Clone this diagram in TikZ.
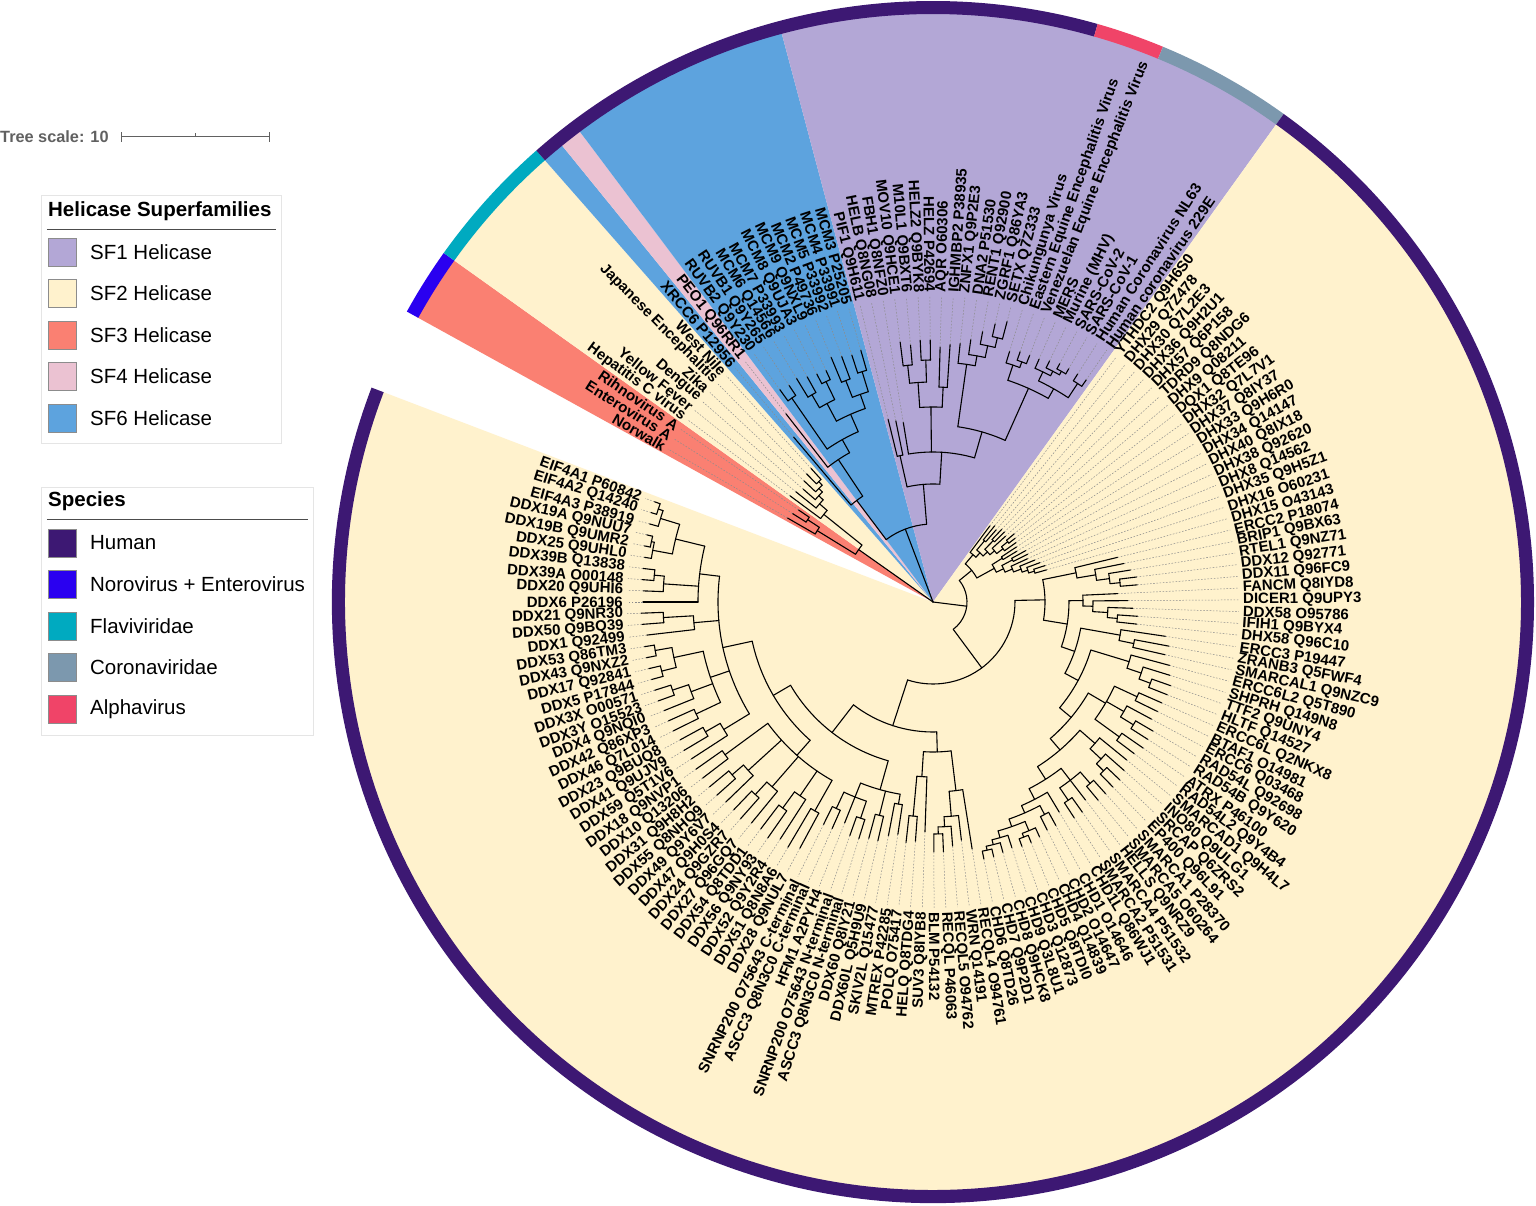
\documentclass[tikz,border=0pt]{standalone}
\usepackage{fontspec}
\setmainfont{Liberation Sans}
\definecolor{sfone}{RGB}{179,167,214}
\definecolor{sftwo}{RGB}{255,242,205}
\definecolor{sfthree}{RGB}{250,128,114}
\definecolor{sffour}{RGB}{235,194,210}
\definecolor{sfsix}{RGB}{93,163,222}
\definecolor{human}{RGB}{61,24,115}
\definecolor{noro}{RGB}{42,0,240}
\definecolor{flavi}{RGB}{0,170,192}
\definecolor{corona}{RGB}{124,152,174}
\definecolor{alpha}{RGB}{240,68,104}
\tikzset{
  branch/.style={black,line width=1.1pt,line cap=round},
  leafdot/.style={black!45,line width=0.5pt,dash pattern=on 1.6pt off 1.6pt},
  lbl/.style={font=\bfseries\fontsize{15}{15}\selectfont,inner sep=0pt},
  legbox/.style={draw=black!10,line width=0.8pt},
  legtitle/.style={font=\bfseries\fontsize{20.5}{22}\selectfont,inner sep=0pt},
  legtxt/.style={font=\fontsize{20.5}{22}\selectfont,inner sep=0pt},
  swatch/.style={minimum width=28pt,minimum height=28pt,inner sep=0pt,draw=black!45,line width=0.6pt}
}
\newcount\leafidx
\def\curR{0}
\let\fA\relax
\let\lA\relax
\def\retA{0}
\def\Tcap{\ifx\fA\relax\let\fA\retA\fi\let\lA\retA}
\def\Tn#1#2{\begingroup\let\outerR\curR\def\curR{#1}\let\fA\relax\let\lA\relax#2%
  \pgfmathsetmacro\myA{(\fA+\lA)/2}%
  \draw[branch] (\fA:#1pt) arc[start angle=\fA,end angle=\lA,radius=#1pt];%
  \draw[branch] (\myA:\outerR pt) -- (\myA:#1pt);%
  \xdef\retA{\myA}\endgroup\Tcap}
\def\Tl#1#2{\pgfmathsetmacro\tA{150-2.2*\the\leafidx}%
  \draw[branch] (\tA:\curR pt) -- (\tA:#1pt);%
  \draw[leafdot] (\tA:#1pt) -- (\tA:306pt);%
  \pgfmathtruncatemacro\isR{and(\tA<90,\tA>-90)}%
  \ifnum\isR=1 \node[lbl,anchor=west,rotate=\tA] (L\the\leafidx) at (\tA:310pt) {#2};%
  \else\pgfmathsetmacro\rA{\tA+180}\node[lbl,anchor=east,rotate=\rA] (L\the\leafidx) at (\tA:310pt) {#2};\fi
  \global\advance\leafidx by 1
  \xdef\retA{\tA}\Tcap}
\def\wedge#1#2#3{\fill[#1] (0,0) -- (#2:589pt) arc[start angle=#2,end angle=#3,radius=589pt] -- cycle;}
\def\ring#1#2#3{\fill[#1] (#2:588pt) arc[start angle=#2,end angle=#3,radius=588pt] -- (#3:601pt) arc[start angle=#3,end angle=#2,radius=601pt] -- cycle;}
\begin{document}
\begin{tikzpicture}[x=1pt,y=1pt]
\useasboundingbox (-933,-604) rectangle (603,602);
\fill[white] (-933,-604) rectangle (603,602);
% superfamily wedges
\wedge{sfthree}{151.1}{144.5}
\wedge{sftwo}{144.5}{131.3}
\wedge{sfsix}{131.3}{129.1}
\wedge{sffour}{129.1}{126.9}
\wedge{sfsix}{126.9}{104.9}
\wedge{sfone}{104.9}{54.3}
\wedge{sftwo}{54.3}{-200.9}
% species ring
\ring{noro}{151.1}{144.5}
\ring{flavi}{144.5}{131.3}
\ring{human}{131.3}{74.1}
\ring{alpha}{74.1}{67.5}
\ring{corona}{67.5}{54.3}
\ring{human}{54.3}{-200.9}
% tree
\Tn{0.01}{%
\Tn{91}{%
 \Tn{136}{\Tl{168}{Norwalk}\Tn{150}{\Tl{166}{Enterovirus A}\Tl{163}{Rihnovirus A}}}%
 \Tn{140}{\Tl{178}{Hepatitis C virus}\Tn{150}{\Tl{176}{Yellow Fever}\Tn{156}{\Tl{172}{Dengue}\Tn{161}{\Tl{177}{Zika}\Tn{166}{\Tl{180}{Japanese Encephalitis}\Tl{181}{West Nile}}}}}}%
}%
\Tn{78}{%
 \Tn{127}{\Tl{216}{XRCC6 P12956}\Tn{171}{\Tl{239}{PEO1 Q96RR1}\Tn{186}{%
   \Tn{248}{\Tl{262}{RUVB2 Q9Y230}\Tl{260}{RUVB1 Q9Y265}}%
   \Tn{205}{\Tn{225}{\Tn{240}{\Tl{262}{MCM6 Q14566}\Tl{258}{MCM7 P33993}}\Tn{245}{\Tl{256}{MCM8 Q9UJA3}\Tl{255}{MCM9 Q9NXL9}}}\Tn{220}{\Tn{238}{\Tl{265}{MCM2 P49736}\Tl{262}{MCM5 P33992}}\Tn{241}{\Tl{260}{MCM4 P33991}\Tl{262}{MCM3 P25205}}}}%
 }}}%
 \Tn{118}{%
  \Tn{150}{\Tl{188}{PIF1 Q9H611}\Tl{185}{HELB Q8NG08}}%
  \Tn{150}{%
   \Tl{182}{FBH1 Q8NFZ0}%
   \Tn{195}{\Tn{220}{\Tn{238}{\Tl{262}{MOV10 Q9HCE1}\Tl{258}{M10L1 Q9BXT6}}\Tn{242}{\Tl{262}{HELZ2 Q9BYK8}\Tl{262}{HELZ P42694}}}\Tn{215}{\Tl{255}{AQR O60306}\Tl{258}{IGHMBP2 P38935}}}%
   \Tn{177}{%
    \Tn{240}{\Tl{260}{ZNFX1 Q9P2E3}\Tn{250}{\Tl{265}{DNA2 P51530}\Tn{262}{\Tl{275}{RENT1 Q92900}\Tn{272}{\Tl{285}{ZGRF1 Q86YA3}\Tl{290}{SETX Q7Z333}}}}}%
    \Tn{234}{\Tn{250}{\Tl{262}{Chikungunya Virus}\Tn{256}{\Tl{265}{Eastern Equine Encephalitis Virus}\Tl{265}{Venezuelan Equine Encephalitis Virus}}}\Tn{245}{\Tn{255}{\Tl{265}{MERS}\Tn{260}{\Tl{268}{Murine (MHV)}\Tn{264}{\Tl{270}{SARS-CoV-2}\Tl{270}{SARS-CoV-1}}}}\Tn{262}{\Tl{270}{Human Coronavirus NL63}\Tl{270}{Human coronavirus 229E}}}}%
   }%
  }%
 }%
}%
\Tn{34}{%
 \Tn{50}{%
  \Tn{62}{\Tl{95}{YTHDC2 Q9H6S0}\Tn{68}{\Tn{80}{\Tl{98}{DHX29 Q7Z478}\Tl{96}{DHX30 Q7L2E3}}\Tn{74}{\Tn{86}{\Tl{100}{DHX36 Q9H2U1}\Tl{100}{DHX57 Q6P158}}\Tn{80}{\Tl{98}{TDRD9 Q8NDG6}\Tn{88}{\Tn{96}{\Tl{106}{DHX9 Q08211}\Tl{104}{DQX1 Q8TE96}}\Tl{102}{DHX32 Q7L7V1}}}}}}%
  \Tn{70}{\Tn{82}{\Tl{100}{DHX37 Q8IY37}\Tl{98}{DHX33 Q9H6R0}}\Tn{78}{\Tn{90}{\Tl{106}{DHX34 Q14147}\Tl{106}{DHX40 Q8IX18}}\Tn{86}{\Tl{104}{DHX38 Q92620}\Tn{94}{\Tl{110}{DHX8 Q14562}\Tn{100}{\Tl{114}{DHX35 Q9H5Z1}\Tn{106}{\Tl{118}{DHX16 O60231}\Tl{118}{DHX15 O43143}}}}}}}%
 }%
 \Tn{82}{%
  \Tn{112}{%
   \Tn{146}{\Tl{190}{ERCC2 P18074}\Tn{165}{\Tl{195}{BRIP1 Q9BX63}\Tn{178}{\Tl{200}{RTEL1 Q9NZ71}\Tn{188}{\Tl{205}{DDX12 Q92771}\Tl{205}{DDX11 Q96FC9}}}}}%
   \Tn{136}{%
    \Tn{150}{\Tl{185}{FANCM Q8IYD8}\Tn{160}{\Tl{195}{DICER1 Q9UPY3}\Tn{175}{\Tl{200}{DDX58 O95786}\Tn{185}{\Tl{205}{IFIH1 Q9BYX4}\Tl{205}{DHX58 Q96C10}}}}}%
    \Tn{150}{%
     \Tn{190}{\Tl{235}{ERCC3 P19447}\Tn{205}{\Tl{240}{ZRANB3 Q5FWF4}\Tl{238}{SMARCAL1 Q9NZC9}}}%
     \Tn{165}{%
      \Tn{205}{\Tl{245}{ERCC6L2 Q5T890}\Tn{220}{\Tl{248}{SHPRH Q149N8}\Tn{232}{\Tl{252}{TTF2 Q9UNY4}\Tl{252}{HLTF Q14527}}}}%
      \Tn{180}{%
       \Tn{200}{\Tn{225}{\Tl{250}{ERCC6L Q2NKX8}\Tl{250}{BTAF1 O14981}}\Tn{220}{\Tl{248}{ERCC6 Q03468}\Tn{235}{\Tl{255}{RAD54L Q92698}\Tl{255}{RAD54B Q9Y620}}}\Tn{230}{\Tl{256}{ATRX P46100}\Tl{252}{RAD54L2 Q9Y4B4}}}%
       \Tn{195}{%
        \Tn{215}{\Tl{250}{SMARCAD1 Q9H4L7}\Tn{230}{\Tl{255}{INO80 Q9ULG1}\Tn{240}{\Tl{258}{SRCAP Q6ZRS2}\Tl{258}{EP400 Q96L91}}}}%
        \Tn{210}{%
         \Tn{225}{\Tn{240}{\Tl{258}{SMARCA1 P28370}\Tl{258}{SMARCA5 O60264}}\Tl{250}{HELLS Q9NRZ9}\Tn{240}{\Tl{258}{SMARCA4 P51532}\Tl{258}{SMARCA2 P51531}}}%
         \Tn{222}{\Tl{245}{CHD1L Q86WJ1}\Tn{230}{\Tn{240}{\Tl{255}{CHD1 O14646}\Tl{255}{CHD2 O14647}}\Tn{238}{\Tn{248}{\Tl{258}{CHD4 Q14839}\Tn{252}{\Tl{260}{CHD5 Q8TDI0}\Tl{260}{CHD3 Q12873}}}\Tn{245}{\Tl{258}{CHD9 Q3L8U1}\Tn{250}{\Tl{260}{CHD8 Q9HCK8}\Tn{254}{\Tl{262}{CHD7 Q9P2D1}\Tl{262}{CHD6 Q8TD26}}}}}}}%
        }%
       }%
      }%
     }%
    }%
   }%
  }%
  \Tn{130}{%
   \Tn{150}{%
    \Tn{190}{\Tl{250}{RECQL4 O94761}\Tn{215}{\Tl{240}{WRN Q14191}\Tn{225}{\Tl{245}{RECQL5 O94762}\Tn{232}{\Tl{250}{RECQL P46063}\Tl{250}{BLM P54132}}}}}%
    \Tn{175}{\Tl{230}{SUV3 Q8IYB8}\Tn{215}{\Tl{240}{HELQ Q8TDG4}\Tl{242}{POLQ O75417}}}%
   }%
   \Tn{165}{%
    \Tn{195}{\Tn{205}{\Tl{235}{MTREX P42285}\Tl{238}{SKIV2L Q15477}}\Tn{220}{\Tl{245}{DDX60L Q5H9U9}\Tl{245}{DDX60 Q8IY21}}\Tn{210}{\Tn{228}{\Tl{248}{ASCC3 Q8N3C0 N-terminal}\Tl{248}{SNRNP200 O75643 N-terminal}}\Tl{238}{HFM1 A2PYH4}\Tn{228}{\Tl{248}{ASCC3 Q8N3C0 C-terminal}\Tl{248}{SNRNP200 O75643 C-terminal}}}}%
    \Tn{185}{%
     \Tn{205}{\Tn{240}{\Tl{280}{DDX28 Q9NUL7}\Tl{285}{DDX51 Q8N8A6}}\Tn{235}{\Tl{282}{DDX52 Q9Y2R4}\Tn{255}{\Tl{288}{DDX56 Q9NY93}\Tl{285}{DDX54 Q8TDD1}}}\Tn{245}{\Tl{286}{DDX27 Q96GQ7}\Tn{262}{\Tl{290}{DDX24 Q9GZR7}\Tl{288}{DDX47 Q9H0S4}}}\Tn{250}{\Tl{288}{DDX49 Q9Y6V7}\Tn{265}{\Tl{290}{DDX55 Q8NHQ9}\Tl{290}{DDX31 Q9H8H2}}}\Tn{258}{\Tl{290}{DDX10 Q13206}\Tl{290}{DDX18 Q9NVP1}}}%
     \Tn{215}{%
      \Tn{245}{\Tl{288}{DDX59 Q5T1V6}\Tn{262}{\Tl{290}{DDX41 Q9UJV9}\Tl{288}{DDX23 Q9BUQ8}}}%
      \Tn{235}{\Tn{262}{\Tl{290}{DDX46 Q7L014}\Tl{290}{DDX42 Q86XP3}}\Tn{258}{\Tl{290}{DDX4 Q9NQI0}\Tn{275}{\Tl{292}{DDX3Y O15523}\Tl{292}{DDX3X O00571}}}\Tn{265}{\Tn{280}{\Tl{292}{DDX5 P17844}\Tl{292}{DDX17 Q92841}}\Tn{282}{\Tl{292}{DDX43 Q9NXZ2}\Tl{292}{DDX53 Q86TM3}}}}%
      \Tn{240}{\Tl{288}{DDX1 Q92499}\Tn{270}{\Tl{292}{DDX50 Q9BQ39}\Tl{292}{DDX21 Q9NR30}}}%
      \Tn{235}{\Tl{290}{DDX6 P26196}\Tn{270}{\Tl{290}{DDX20 Q9UHI6}\Tn{280}{\Tl{292}{DDX39A O00148}\Tl{292}{DDX39B Q13838}}}\Tn{265}{\Tn{285}{\Tl{292}{DDX25 Q9UHL0}\Tn{288}{\Tl{294}{DDX19B Q9UMR2}\Tl{294}{DDX19A Q9NUU7}}}\Tn{285}{\Tl{294}{EIF4A3 P38919}\Tn{290}{\Tl{296}{EIF4A2 Q14240}\Tl{296}{EIF4A1 P60842}}}}}%
     }%
    }%
   }%
  }%
 }%
}%
}%
% tree scale
\node[anchor=west,inner sep=0pt,font=\bfseries\fontsize{16.3}{18}\selectfont,text=black!62] (ts) at (-933,465) {Tree scale: 10};
\coordinate (sb0) at (-811,465);
\coordinate (sb1) at (-663,465);
\coordinate (sbm) at (-737,465);
\draw[black!62,line width=1pt] (sb0) -- (sb1);
\draw[black!62,line width=1pt] ([yshift=-5pt]sb0) -- ([yshift=5pt]sb0);
\draw[black!62,line width=1pt] ([yshift=-5pt]sb1) -- ([yshift=5pt]sb1);
\draw[black!62,line width=1pt] (sbm) -- ([yshift=4pt]sbm);
% legend 1
\draw[legbox] (-892,407) rectangle (-652,159);
\node[legtitle,anchor=west] (lt1) at (-885,391) {Helicase Superfamilies};
\draw[black!70,line width=0.8pt] (-886,373) -- (-657,373);
\node[swatch,fill=sfone] (s1) at (-871,350) {};
\node[legtxt,anchor=west] (t1) at (-843,350) {SF1 Helicase};
\node[swatch,fill=sftwo] (s2) at (-871,309) {};
\node[legtxt,anchor=west] (t2) at (-843,309) {SF2 Helicase};
\node[swatch,fill=sfthree] (s3) at (-871,267) {};
\node[legtxt,anchor=west] (t3) at (-843,267) {SF3 Helicase};
\node[swatch,fill=sffour] (s4) at (-871,226) {};
\node[legtxt,anchor=west] (t4) at (-843,226) {SF4 Helicase};
\node[swatch,fill=sfsix] (s5) at (-871,184) {};
\node[legtxt,anchor=west] (t5) at (-843,184) {SF6 Helicase};
% legend 2
\draw[legbox] (-892,115) rectangle (-620,-133);
\node[legtitle,anchor=west] (lt2) at (-885,101) {Species};
\draw[black!70,line width=0.8pt] (-886,83) -- (-625,83);
\node[swatch,fill=human] (p1) at (-871,59) {};
\node[legtxt,anchor=west] (u1) at (-843,59) {Human};
\node[swatch,fill=noro] (p2) at (-871,18) {};
\node[legtxt,anchor=west] (u2) at (-843,18) {Norovirus + Enterovirus};
\node[swatch,fill=flavi] (p3) at (-871,-24) {};
\node[legtxt,anchor=west] (u3) at (-843,-24) {Flaviviridae};
\node[swatch,fill=corona] (p4) at (-871,-65) {};
\node[legtxt,anchor=west] (u4) at (-843,-65) {Coronaviridae};
\node[swatch,fill=alpha] (p5) at (-871,-107) {};
\node[legtxt,anchor=west] (u5) at (-843,-107) {Alphavirus};
\end{tikzpicture}
\end{document}
